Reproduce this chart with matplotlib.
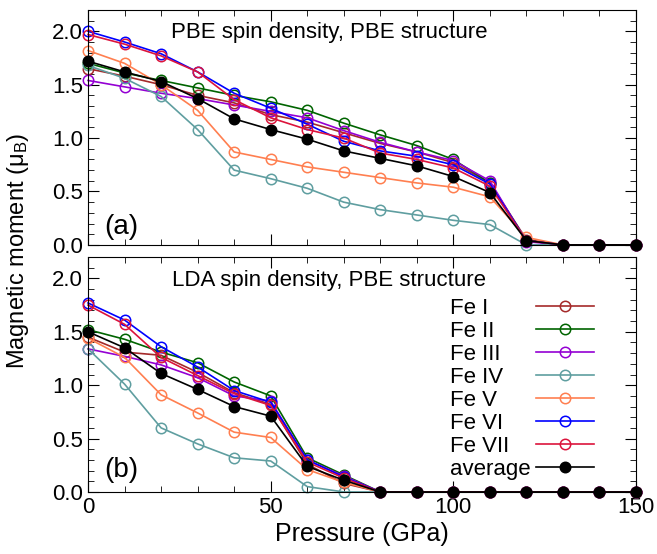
import numpy as np
import matplotlib.pyplot as plt
from matplotlib.ticker import MultipleLocator

plt.rcParams['font.family'] = ['Liberation Sans', 'DejaVu Sans']

pressure = [0, 10, 20, 30, 40, 50, 60, 70, 80, 90, 100, 110, 120, 130, 140, 150]

labels = ['Fe I', 'Fe II', 'Fe III', 'Fe IV', 'Fe V', 'Fe VI', 'Fe VII', 'average']
colors = ['#a52a2a', '#006400', '#9400d3', '#5f9ea0', '#ff7f50', '#0000ff', '#dc143c', 'black']

# PBE spin density, PBE structure
pbe_fe1 = [1.65, 1.58, 1.50, 1.40, 1.33, 1.22, 1.15, 1.05, 0.95, 0.87, 0.77, 0.58, 0.05, 0, 0, 0]
pbe_fe2 = [1.70, 1.61, 1.54, 1.47, 1.40, 1.34, 1.26, 1.14, 1.03, 0.93, 0.80, 0.58, 0.04, 0, 0, 0]
pbe_fe3 = [1.54, 1.48, 1.42, 1.37, 1.31, 1.25, 1.19, 1.07, 0.96, 0.87, 0.79, 0.60, 0.03, 0, 0, 0]
pbe_fe4 = [1.68, 1.56, 1.39, 1.08, 0.70, 0.62, 0.53, 0.40, 0.33, 0.28, 0.23, 0.19, 0.00, 0, 0, 0]
pbe_fe5 = [1.82, 1.70, 1.50, 1.26, 0.87, 0.80, 0.73, 0.68, 0.63, 0.58, 0.54, 0.45, 0.07, 0, 0, 0]
pbe_fe6 = [2.00, 1.90, 1.79, 1.62, 1.42, 1.28, 1.13, 0.97, 0.88, 0.83, 0.75, 0.57, 0.04, 0, 0, 0]
pbe_fe7 = [1.97, 1.88, 1.77, 1.62, 1.36, 1.19, 1.08, 1.00, 0.86, 0.80, 0.72, 0.55, 0.04, 0, 0, 0]
pbe_avg = [1.72, 1.62, 1.53, 1.37, 1.18, 1.08, 0.99, 0.88, 0.81, 0.74, 0.64, 0.49, 0.04, 0, 0, 0]

# LDA spin density, PBE structure
lda_fe1 = [1.45, 1.31, 1.28, 1.12, 0.93, 0.82, 0.26, 0.08, 0, 0, 0, 0, 0, 0, 0, 0]
lda_fe2 = [1.52, 1.43, 1.31, 1.21, 1.03, 0.90, 0.32, 0.16, 0, 0, 0, 0, 0, 0, 0, 0]
lda_fe3 = [1.34, 1.27, 1.19, 1.07, 0.90, 0.85, 0.30, 0.15, 0, 0, 0, 0, 0, 0, 0, 0]
lda_fe4 = [1.34, 1.01, 0.60, 0.45, 0.32, 0.29, 0.05, 0.00, 0, 0, 0, 0, 0, 0, 0, 0]
lda_fe5 = [1.44, 1.26, 0.91, 0.74, 0.56, 0.51, 0.21, 0.09, 0, 0, 0, 0, 0, 0, 0, 0]
lda_fe6 = [1.77, 1.61, 1.36, 1.17, 0.95, 0.84, 0.30, 0.14, 0, 0, 0, 0, 0, 0, 0, 0]
lda_fe7 = [1.75, 1.57, 1.26, 1.09, 0.92, 0.81, 0.28, 0.13, 0, 0, 0, 0, 0, 0, 0, 0]
lda_avg = [1.50, 1.35, 1.11, 0.96, 0.80, 0.71, 0.24, 0.11, 0, 0, 0, 0, 0, 0, 0, 0]

pbe = [pbe_fe1, pbe_fe2, pbe_fe3, pbe_fe4, pbe_fe5, pbe_fe6, pbe_fe7, pbe_avg]
lda = [lda_fe1, lda_fe2, lda_fe3, lda_fe4, lda_fe5, lda_fe6, lda_fe7, lda_avg]

fig = plt.figure(figsize=(6.57, 5.54), dpi=100)
ax1 = fig.add_axes([0.134, 0.558, 0.834, 0.424])
ax2 = fig.add_axes([0.134, 0.112, 0.834, 0.424])

for ax, sets in [(ax1, pbe), (ax2, lda)]:
    for y, c, lab in zip(sets, colors, labels):
        fc = 'black' if lab == 'average' else 'none'
        ax.plot(pressure, y, '-o', color=c, mfc=fc, mec=c, ms=7.5, mew=1.1,
                lw=1.2, label=lab, clip_on=False)
    ax.set_xlim(0, 150)
    ax.set_ylim(0, 2.2)
    ax.xaxis.set_major_locator(MultipleLocator(50))
    ax.xaxis.set_minor_locator(MultipleLocator(10))
    ax.yaxis.set_major_locator(MultipleLocator(0.5))
    ax.yaxis.set_minor_locator(MultipleLocator(0.1))
    ax.yaxis.set_major_formatter(plt.FormatStrFormatter('%.1f'))
    ax.tick_params(which='both', direction='in', top=True, right=True, labelsize=16)
    ax.tick_params(which='major', length=8)
    ax.tick_params(which='minor', length=4)

ax1.tick_params(labelbottom=False)
ax1.text(0.44, 0.905, 'PBE spin density, PBE structure', transform=ax1.transAxes,
         ha='center', va='center', fontsize=16)
ax1.text(0.03, 0.075, '(a)', transform=ax1.transAxes, ha='left', va='center', fontsize=20)
ax2.text(0.44, 0.90, 'LDA spin density, PBE structure', transform=ax2.transAxes,
         ha='center', va='center', fontsize=16)
ax2.text(0.03, 0.095, '(b)', transform=ax2.transAxes, ha='left', va='center', fontsize=20)

ax2.set_xlabel('Pressure (GPa)', fontsize=18, labelpad=3)
fig.text(0.027, 0.547, r'Magnetic moment ($\mathregular{\mu_B}$)', rotation=90,
         ha='center', va='center', fontsize=17)

leg = ax2.legend(loc='upper right', bbox_to_anchor=(0.923, 0.825), frameon=False,
                 markerfirst=False, fontsize=16, handlelength=2.6, handletextpad=0.1,
                 labelspacing=0.09, borderpad=0, borderaxespad=0)
# gnuplot style key: labels left-aligned, samples at the right
for col in leg._legend_handle_box.get_children():
    for row in col.get_children():
        row.mode = 'expand'
        row.width = 144

fig.savefig('out.png', dpi=100)
